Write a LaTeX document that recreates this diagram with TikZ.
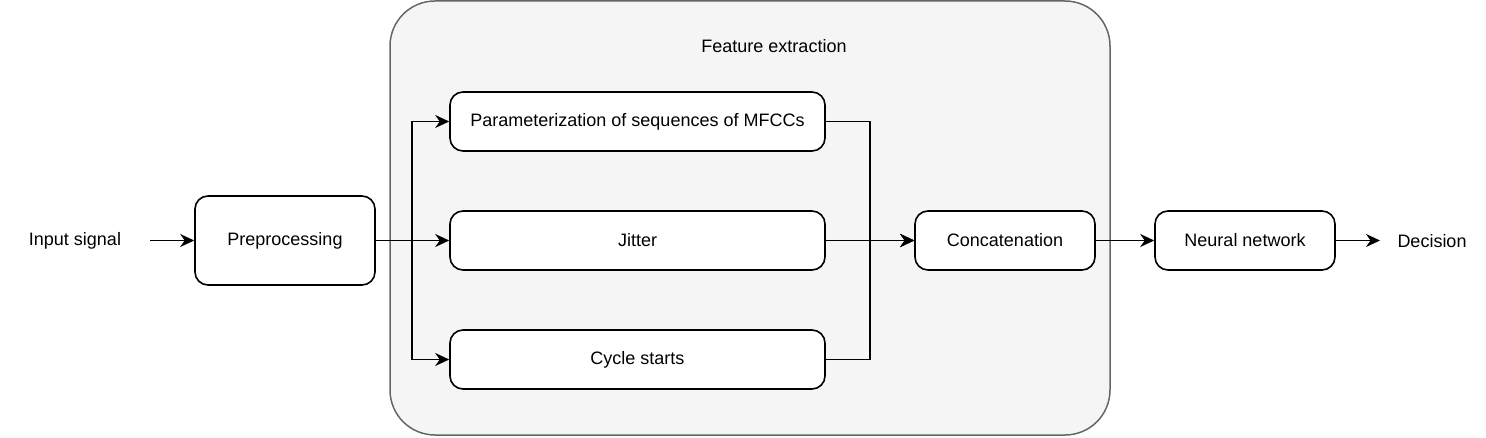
\documentclass[tikz,border=0pt]{standalone}
\usepackage{fontspec}
\setmainfont{Liberation Sans}
\usetikzlibrary{arrows.meta}

\tikzset{
  block/.style={draw, line width=1.6pt, rounded corners=13pt, fill=white,
    minimum width=180pt, minimum height=89pt, inner sep=0pt},
  wideblock/.style={block, minimum width=375pt, minimum height=59pt},
  smallblock/.style={block, minimum height=59pt},
  label/.style={inner sep=0pt},
  link/.style={line width=1.6pt, -{Stealth[length=14pt, width=13pt, inset=4.5pt]}},
}

\begin{document}
\begin{tikzpicture}[x=1pt, y=-1pt, font=\fontsize{18}{22}\selectfont]
        \useasboundingbox (0,0) rectangle (1486,438);

        % feature extraction group
        \draw[line width=1.5pt, draw=black!60, fill=black!4, rounded corners=45pt]
            (390,1) rectangle (1110,435);
        \node[label] (fe) at (774,46) {Feature extraction};

        \node[label] (in) at (75,241) {Input signal};
        \node[block] (pre) at (285,240.5) {Preprocessing};

        \node[wideblock] (par) at (637.5,121.5) {Parameterization of sequences of MFCCs};
        \node[wideblock] (jit) at (637.5,240.5) {Jitter};
        \node[wideblock] (cyc) at (637.5,359.5) {Cycle starts};

        \node[smallblock] (cat) at (1005,240.5) {Concatenation};
        \node[smallblock] (nn) at (1245,240.5) {Neural network};
        \node[label] (dec) at (1432,241) {Decision};

        \coordinate (split) at (412,240.5);
        \coordinate (join) at (870,240.5);

        \draw[link] (150,240.5) -- (pre.west);
        \draw[link] (pre.east) -- (jit.west);
        \draw[link] (pre.east) -- (split) |- (par.west);
        \draw[link] (pre.east) -- (split) |- (cyc.west);

        \draw[link] (par.east) -| (join) -- (cat.west);
        \draw[link] (jit.east) -- (cat.west);
        \draw[link] (cyc.east) -| (join) -- (cat.west);

        \draw[link] (cat.east) -- (nn.west);
        \draw[link] (nn.east) -- (1380,240.5);
    \end{tikzpicture}
\end{document}
